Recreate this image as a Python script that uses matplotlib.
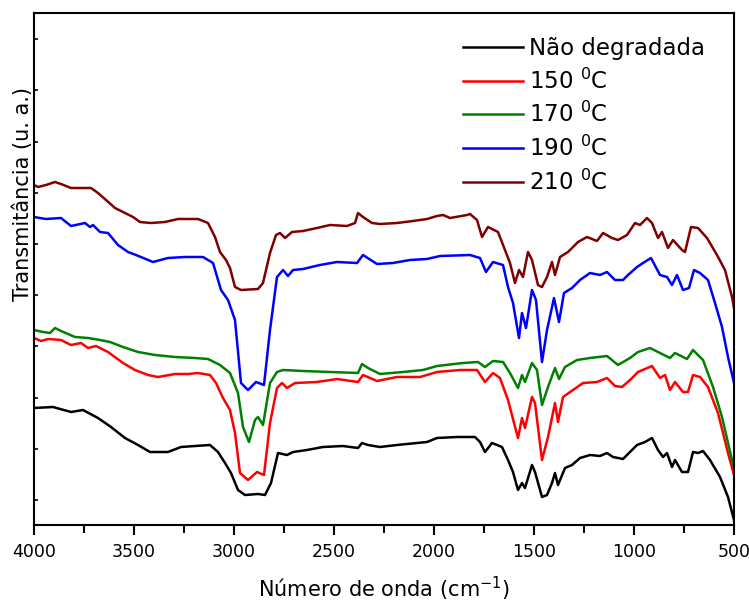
import numpy as np
import matplotlib
matplotlib.use("Agg")
import matplotlib.pyplot as plt
from matplotlib.ticker import MultipleLocator

# ---------------- data (wavenumber cm^-1, transmittance arb. units) -------------
wn_nd = [4000, 3905, 3815, 3755, 3680, 3615, 3545, 3480, 3420, 3330, 3265, 3195, 3120,
         3080, 3045, 3015, 2980, 2945, 2880, 2845, 2815, 2780, 2735, 2705, 2635, 2555,
         2455, 2380, 2360, 2330, 2270, 2185, 2085, 2035, 1985, 1885, 1795, 1770, 1745,
         1710, 1660, 1630, 1605, 1580, 1560, 1545, 1510, 1495, 1460, 1435, 1410, 1395,
         1380, 1345, 1310, 1270, 1220, 1170, 1135, 1105, 1055, 1035, 985, 945, 910, 880,
         855, 835, 810, 795, 760, 730, 705, 680, 655, 620, 570, 530, 500]
t_nd = [117, 118, 113, 115, 107, 98, 87, 80, 73, 73, 78, 79, 80,
        73, 62, 52, 35, 30, 31, 30, 42, 72, 70, 73, 75, 78,
        79, 77, 82, 80, 78, 80, 82, 83, 87, 88, 88, 83, 73,
        82, 78, 65, 53, 35, 42, 37, 60, 53, 28, 30, 42, 52,
        40, 57, 60, 67, 70, 69, 72, 68, 66, 70, 80, 83, 87, 75,
        68, 72, 58, 65, 53, 53, 73, 72, 74, 65, 48, 28, 5]

wn_150 = [4000, 3965, 3930, 3865, 3815, 3765, 3730, 3690, 3630, 3555, 3495, 3430, 3380,
          3295, 3230, 3180, 3120, 3090, 3055, 3020, 2995, 2970, 2930, 2885, 2850, 2820,
          2785, 2760, 2735, 2695, 2585, 2485, 2380, 2355, 2285, 2185, 2070, 1985, 1870,
          1785, 1745, 1705, 1670, 1630, 1580, 1560, 1545, 1510, 1495, 1460, 1430, 1395,
          1380, 1355, 1305, 1255, 1185, 1135, 1095, 1060, 1020, 980, 945, 910, 870, 845,
          820, 795, 755, 730, 705, 670, 630, 580, 530, 500]
t_150 = [187, 184, 186, 185, 180, 182, 177, 179, 173, 162, 155, 150, 148,
         151, 151, 152, 150, 142, 127, 115, 92, 52, 45, 53, 50, 102,
         137, 142, 137, 142, 143, 146, 143, 150, 144, 148, 148, 153, 155,
         155, 143, 152, 147, 125, 87, 107, 97, 128, 122, 65, 88, 122,
         103, 128, 135, 142, 143, 147, 139, 138, 145, 153, 156, 159, 147, 150,
         135, 143, 133, 133, 150, 148, 138, 112, 72, 50]

wn_170 = [4000, 3955, 3920, 3895, 3865, 3795, 3730, 3670, 3620, 3555, 3480, 3395, 3295,
          3195, 3130, 3070, 3020, 2980, 2955, 2925, 2895, 2880, 2855, 2820, 2785, 2755,
          2655, 2520, 2380, 2360, 2330, 2270, 2155, 2055, 1985, 1855, 1780, 1745, 1705,
          1655, 1620, 1580, 1560, 1545, 1510, 1485, 1460, 1430, 1395, 1375, 1345, 1285,
          1220, 1135, 1080, 1020, 980, 920, 870, 820, 795, 735, 705, 655, 605, 560, 510, 500]
t_170 = [195, 193, 192, 197, 194, 188, 187, 185, 183, 178, 173, 170, 168,
         167, 166, 160, 152, 132, 98, 83, 105, 108, 100, 142, 153, 155,
         154, 153, 152, 161, 157, 151, 153, 155, 159, 162, 163, 158, 164,
         163, 152, 137, 150, 143, 162, 155, 120, 138, 157, 146, 158, 165,
         167, 169, 160, 167, 173, 177, 172, 167, 172, 166, 175, 165, 138, 108, 65, 58]

wn_190 = [4000, 3940, 3865, 3815, 3745, 3720, 3705, 3670, 3630, 3580, 3530, 3490, 3405,
          3330, 3245, 3155, 3105, 3065, 3030, 2995, 2965, 2930, 2890, 2850, 2820, 2785,
          2755, 2730, 2705, 2655, 2570, 2485, 2385, 2355, 2285, 2205, 2120, 2035, 1970,
          1820, 1770, 1740, 1705, 1655, 1630, 1605, 1575, 1560, 1540, 1510, 1490, 1460,
          1435, 1400, 1375, 1350, 1310, 1270, 1220, 1170, 1135, 1095, 1055, 1030, 985,
          955, 915, 870, 835, 810, 785, 755, 725, 700, 670, 630, 595, 560, 530, 500]
t_190 = [308, 306, 307, 299, 302, 298, 300, 293, 292, 280, 273, 270, 263,
         267, 268, 268, 262, 235, 225, 205, 142, 135, 143, 140, 195, 248,
         255, 249, 255, 256, 260, 263, 262, 270, 261, 262, 265, 266, 269,
         270, 267, 253, 263, 260, 238, 222, 187, 212, 197, 235, 225, 163,
         195, 227, 203, 232, 237, 245, 252, 250, 253, 245, 245, 250, 258,
         262, 267, 250, 248, 240, 250, 235, 237, 255, 252, 245, 222, 198, 168, 142]

wn_210 = [4000, 3980, 3940, 3895, 3865, 3815, 3765, 3715, 3680, 3640, 3595, 3545, 3505,
          3470, 3415, 3345, 3280, 3215, 3180, 3130, 3095, 3070, 3040, 3020, 2995, 2965,
          2880, 2855, 2820, 2790, 2770, 2745, 2710, 2655, 2585, 2520, 2435, 2395, 2380,
          2355, 2310, 2270, 2185, 2105, 2035, 1985, 1955, 1920, 1835, 1820, 1785, 1760,
          1730, 1680, 1645, 1620, 1595, 1575, 1555, 1530, 1510, 1480, 1460, 1435, 1410,
          1395, 1370, 1330, 1280, 1235, 1185, 1155, 1110, 1080, 1035, 995, 970, 935, 910,
          880, 860, 830, 805, 760, 745, 715, 680, 635, 585, 545, 510, 500]
t_210 = [340, 338, 340, 343, 341, 337, 337, 337, 332, 325, 317, 312, 308,
         303, 302, 303, 306, 306, 306, 302, 288, 273, 265, 257, 238, 235,
         236, 242, 272, 290, 292, 287, 293, 294, 297, 300, 299, 302, 312,
         308, 302, 301, 302, 304, 306, 309, 310, 307, 310, 311, 305, 288,
         298, 293, 275, 262, 242, 255, 248, 273, 265, 240, 238, 248, 263,
         250, 268, 273, 283, 288, 284, 292, 287, 285, 290, 302, 300, 307, 302,
         287, 293, 277, 285, 275, 273, 298, 297, 287, 270, 255, 228, 217]

labels = ["Não degradada", r"150 $^{\rm 0}$C", r"170 $^{\rm 0}$C",
          r"190 $^{\rm 0}$C", r"210 $^{\rm 0}$C"]
colors = ["#000000", "#ff0000", "#008000", "#0000ff", "#800000"]

series = [(wn_nd, t_nd), (wn_150, t_150), (wn_170, t_170), (wn_190, t_190), (wn_210, t_210)]

# ---------------- figure ---------------------------------------------------------
fig = plt.figure(figsize=(7.49, 6.03), dpi=100)
ax = fig.add_axes([34 / 749, 78 / 603, 700 / 749, 512 / 603])

for (wn, t), lab, c in zip(series, labels, colors):
    ax.plot(wn, t, color=c, lw=1.8, label=lab, solid_joinstyle="round")

ax.set_xlim(4000, 500)
ax.set_ylim(0, 512)
ax.xaxis.set_major_locator(MultipleLocator(500))
ax.xaxis.set_minor_locator(MultipleLocator(250))
ax.set_yticks(np.arange(25, 512, 51.2))
ax.set_yticklabels([])

ax.tick_params(axis="x", which="major", direction="out", length=7, width=1.5,
               labelsize=12.5, pad=6)
ax.tick_params(axis="x", which="minor", direction="out", length=6, width=1.5)
ax.tick_params(axis="y", which="both", direction="in", length=3, width=1.2, left=True)

for s in ax.spines.values():
    s.set_linewidth(1.5)

ax.set_xlabel("Número de onda (cm$^{-1}$)", fontsize=15, labelpad=10)
ax.set_ylabel("Transmitância (u. a.)", fontsize=15)
ax.yaxis.set_label_coords(-1 / 700, (525 - 194) / 512)

leg = ax.legend(loc="upper left", bbox_to_anchor=(429 / 700, 1 - 24 / 512),
                frameon=False, fontsize=16.5, handlelength=2.6, handletextpad=0.3,
                labelspacing=0.37, borderaxespad=0, borderpad=0)
for line in leg.get_lines():
    line.set_linewidth(1.8)

fig.savefig("out.png", dpi=100)
